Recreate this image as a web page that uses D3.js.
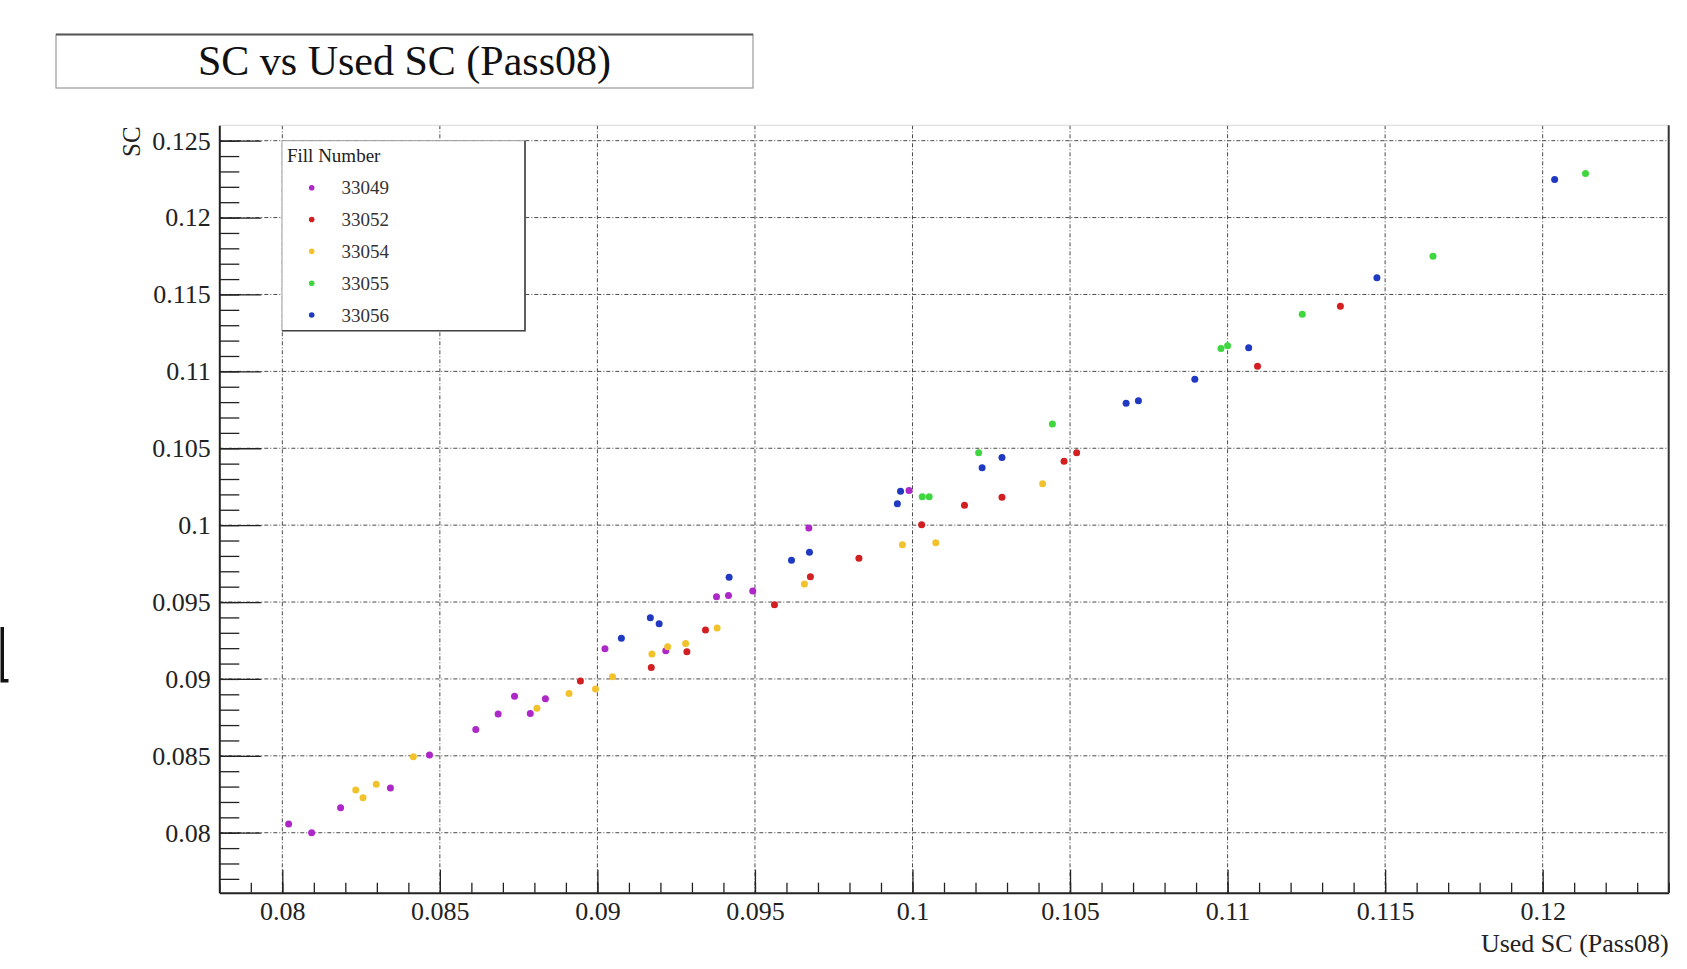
<!DOCTYPE html>
<html>
<head>
<meta charset="utf-8">
<script src="https://cdn.jsdelivr.net/npm/d3@7"></script>
<style>
    body { margin: 0; background: #fff; }
    svg { display: block; font-family: "Liberation Serif", "DejaVu Serif", serif; }
</style>
</head>
<body>
<div id="chart"></div>
<script>
// Fill numbers and their points: x = used SC (Pass08), y = SC
const fillNumbers = ["33049", "33052", "33054", "33055", "33056"];

const usedSC33049 = [0.0802, 0.08093, 0.08185, 0.08343, 0.08467, 0.08614, 0.08685, 0.08737, 0.08787, 0.08835, 0.09024, 0.09217, 0.09378, 0.09416, 0.09493, 0.09671, 0.09989];
const sc33049     = [0.08057, 0.0800, 0.08163, 0.08291, 0.08505, 0.08672, 0.08772, 0.08887, 0.08776, 0.08871, 0.09196, 0.09183, 0.09534, 0.09543, 0.09571, 0.09981, 0.10226];

const usedSC33052 = [0.08946, 0.09171, 0.09284, 0.09343, 0.09562, 0.09676, 0.0983, 0.10029, 0.10165, 0.10284, 0.10481, 0.10521, 0.11095, 0.11358];
const sc33052     = [0.08986, 0.09075, 0.09177, 0.09318, 0.09482, 0.09664, 0.09784, 0.10002, 0.10129, 0.10182, 0.10416, 0.1047, 0.11034, 0.11424];

const usedSC33054 = [0.08233, 0.08256, 0.08298, 0.08416, 0.08808, 0.0891, 0.08994, 0.09048, 0.09173, 0.09223, 0.0928, 0.0938, 0.09657, 0.09968, 0.10074, 0.10413];
const sc33054     = [0.08278, 0.08228, 0.08315, 0.08494, 0.08809, 0.08906, 0.08934, 0.09014, 0.09162, 0.09209, 0.09231, 0.09331, 0.09617, 0.09872, 0.09885, 0.10269];

const usedSC33055 = [0.10031, 0.10053, 0.1021, 0.10444, 0.10979, 0.11, 0.11237, 0.11652, 0.12136];
const sc33055     = [0.10184, 0.10184, 0.1047, 0.10657, 0.11149, 0.11166, 0.11372, 0.11749, 0.12287];

const usedSC33056 = [0.09076, 0.09168, 0.09196, 0.09418, 0.09616, 0.09673, 0.09952, 0.09962, 0.10221, 0.10284, 0.10678, 0.10717, 0.10896, 0.11067, 0.11474, 0.12038];
const sc33056     = [0.09264, 0.09398, 0.09359, 0.09662, 0.09771, 0.09823, 0.10139, 0.10221, 0.10373, 0.1044, 0.10792, 0.10809, 0.10948, 0.11153, 0.11608, 0.12248];

const xTicks = [0.08, 0.085, 0.09, 0.095, 0.1, 0.105, 0.11, 0.115, 0.12];
const xTickLabels = ["0.08", "0.085", "0.09", "0.095", "0.1", "0.105", "0.11", "0.115", "0.12"];
const yTicks = [0.08, 0.085, 0.09, 0.095, 0.1, 0.105, 0.11, 0.115, 0.12, 0.125];
const yTickLabels = ["0.08", "0.085", "0.09", "0.095", "0.1", "0.105", "0.11", "0.115", "0.12", "0.125"];

const series = [
    {fill: fillNumbers[0], xs: usedSC33049, ys: sc33049, color: "#ad27c9"},
    {fill: fillNumbers[1], xs: usedSC33052, ys: sc33052, color: "#d21f22"},
    {fill: fillNumbers[2], xs: usedSC33054, ys: sc33054, color: "#f1c22c"},
    {fill: fillNumbers[3], xs: usedSC33055, ys: sc33055, color: "#3fd63f"},
    {fill: fillNumbers[4], xs: usedSC33056, ys: sc33056, color: "#1f39c2"}
];

const width = 1687, height = 969;
const plot = {left: 219.3, right: 1668.7, top: 125.3, bottom: 892.7};

const svg = d3.select("#chart").append("svg")
    .attr("width", width)
    .attr("height", height);

const x = d3.scaleLinear()
    .domain([0.078, 0.124])
    .range([plot.left, plot.right]);

const y = d3.scaleLinear()
    .domain([0.0761, 0.126])
    .range([plot.bottom, plot.top]);

// title box
svg.append("rect")
    .attr("x", 56).attr("y", 34.5)
    .attr("width", 697).attr("height", 53.5)
    .attr("fill", "#fff")
    .attr("stroke", "#9a9a9a")
    .attr("stroke-width", 1.2);
svg.append("line")
    .attr("x1", 56).attr("x2", 753)
    .attr("y1", 34.5).attr("y2", 34.5)
    .attr("stroke", "#555").attr("stroke-width", 2);
svg.append("text")
    .attr("x", 404.5).attr("y", 61)
    .attr("text-anchor", "middle")
    .attr("dominant-baseline", "central")
    .attr("font-size", 42)
    .attr("fill", "#111")
    .text("SC vs Used SC (Pass08)");

// cropped glyph at the left edge
svg.append("path")
    .attr("d", "M0.5,627 L4,627 L4,679 L8.5,679 L8.5,682.5 L0.5,682.5 Z")
    .attr("fill", "#111");

// grid
const grid = svg.append("g").attr("stroke", "#4a4a4a").attr("stroke-width", 1)
    .attr("stroke-dasharray", "4,2,1,2");
grid.selectAll(".gx").data(xTicks).enter().append("line")
    .attr("x1", d => x(d)).attr("x2", d => x(d))
    .attr("y1", plot.top).attr("y2", plot.bottom);
grid.selectAll(".gy").data(yTicks).enter().append("line")
    .attr("x1", plot.left).attr("x2", plot.right)
    .attr("y1", d => y(d)).attr("y2", d => y(d));

// frame: light top, dark right
svg.append("line")
    .attr("x1", plot.left).attr("x2", plot.right)
    .attr("y1", plot.top).attr("y2", plot.top)
    .attr("stroke", "#d8d8d8").attr("stroke-width", 1);
svg.append("line")
    .attr("x1", plot.right).attr("x2", plot.right)
    .attr("y1", plot.top).attr("y2", plot.bottom)
    .attr("stroke", "#333").attr("stroke-width", 2);

// minor ticks every 0.001
const xMinor = d3.range(78, 125).map(v => v / 1000);
const yMinor = d3.range(77, 126).map(v => v / 1000);

svg.append("g")
    .attr("transform", `translate(0, ${plot.bottom})`)
    .call(d3.axisBottom(x).tickValues(xMinor).tickSize(-10).tickFormat(""))
    .call(g => g.select(".domain").remove())
    .call(g => g.selectAll("line").attr("stroke", "#222").attr("stroke-width", 1.3));

svg.append("g")
    .attr("transform", `translate(${plot.left}, 0)`)
    .call(d3.axisLeft(y).tickValues(yMinor).tickSize(-20).tickFormat(""))
    .call(g => g.select(".domain").remove())
    .call(g => g.selectAll("line").attr("stroke", "#222").attr("stroke-width", 1.3));

// major ticks and labels
svg.append("g")
    .attr("transform", `translate(0, ${plot.bottom})`)
    .call(d3.axisBottom(x).tickValues(xTicks).tickSizeInner(-23).tickSizeOuter(0).tickPadding(9)
        .tickFormat((d, i) => xTickLabels[i]))
    .call(g => g.select(".domain").attr("stroke", "#222").attr("stroke-width", 2))
    .call(g => g.selectAll(".tick line").attr("stroke", "#222").attr("stroke-width", 1.3))
    .call(g => g.selectAll("text").attr("font-family", "Liberation Serif, serif")
        .attr("font-size", 26).attr("fill", "#222"));

svg.append("g")
    .attr("transform", `translate(${plot.left}, 0)`)
    .call(d3.axisLeft(y).tickValues(yTicks).tickSizeInner(-42).tickSizeOuter(0).tickPadding(8.5)
        .tickFormat((d, i) => yTickLabels[i]))
    .call(g => g.select(".domain").attr("stroke", "#222").attr("stroke-width", 2))
    .call(g => g.selectAll(".tick line").attr("stroke", "#222").attr("stroke-width", 1.3))
    .call(g => g.selectAll("text").attr("font-family", "Liberation Serif, serif")
        .attr("font-size", 26).attr("fill", "#222"));

// axis titles
svg.append("text")
    .attr("x", plot.right).attr("y", 952)
    .attr("text-anchor", "end")
    .attr("font-size", 26)
    .attr("fill", "#222")
    .text("Used SC (Pass08)");

svg.append("text")
    .attr("transform", `translate(140, ${plot.top + 1}) rotate(-90)`)
    .attr("text-anchor", "end")
    .attr("font-size", 25)
    .attr("fill", "#222")
    .text("SC");

// legend
const legend = svg.append("g");
legend.append("rect")
    .attr("x", 282).attr("y", 140.7)
    .attr("width", 243).attr("height", 190)
    .attr("fill", "#fff")
    .attr("stroke", "#a0a0a0").attr("stroke-width", 1);
legend.append("polyline")
    .attr("points", "525,140.7 525,330.7 282,330.7")
    .attr("fill", "none")
    .attr("stroke", "#444").attr("stroke-width", 1.6);
legend.append("text")
    .attr("x", 287).attr("y", 162)
    .attr("font-size", 19)
    .attr("fill", "#222")
    .text("Fill Number");

const rowY = d3.scaleLinear().domain([0, 4]).range([187.7, 315]);
const entries = legend.selectAll(".entry").data(series).enter().append("g");
entries.append("circle")
    .attr("cx", 311.7).attr("cy", (d, i) => rowY(i))
    .attr("r", 2.8)
    .attr("fill", d => d.color);
entries.append("text")
    .attr("x", 341.5).attr("y", (d, i) => rowY(i))
    .attr("dominant-baseline", "central")
    .attr("font-size", 19)
    .attr("fill", "#333")
    .text(d => d.fill);

// points
series.forEach(function(s) {
    svg.append("g")
        .selectAll("circle")
        .data(s.xs.map((v, i) => ({x: v, y: s.ys[i]})))
        .enter()
        .append("circle")
        .attr("cx", d => x(d.x))
        .attr("cy", d => y(d.y))
        .attr("r", 3.5)
        .attr("fill", s.color);
});
</script>
</body>
</html>
